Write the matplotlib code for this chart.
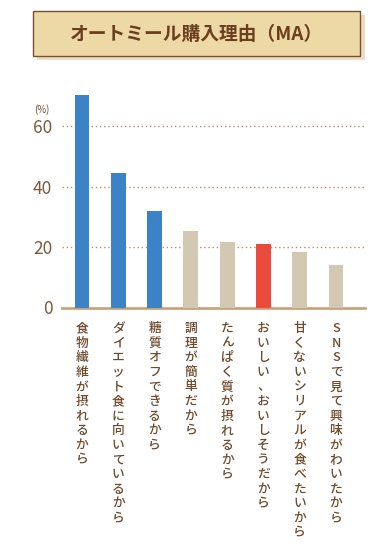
import matplotlib.pyplot as plt
from matplotlib.patches import Rectangle

plt.rcParams['font.family'] = ['Noto Sans CJK JP', 'DejaVu Sans']

# Data
reasons = ['食物繊維が摂れるから', 'ダイエット食に向いているから', '糖質オフできるから',
           '調理が簡単だから', 'たんぱく質が摂れるから', 'おいしい、おいしそうだから',
           '甘くないシリアルが食べたいから', 'SNSで見て興味がわいたから']
values = [70.5, 44.4, 32.0, 25.4, 21.8, 20.9, 18.4, 14.1]
bar_colors = ['#3b82c6', '#3b82c6', '#3b82c6', '#d3c8b2', '#d3c8b2',
              '#ea4b3c', '#d3c8b2', '#d3c8b2']
yticks = [0, 20, 40, 60]
title = 'オートミール購入理由（MA）'

brown = '#6e4a2c'
W, H = 390, 551
fig = plt.figure(figsize=(W / 100, H / 100), dpi=100)

# Title box with shadow
shadow = Rectangle((37 / W, 1 - 60 / H), 328 / W, 45 / H, transform=fig.transFigure,
                   facecolor='#dcc99a', edgecolor='none', alpha=0.6)
box = Rectangle((33 / W, 1 - 56 / H), 327 / W, 45 / H, transform=fig.transFigure,
                facecolor='#ecd9a6', edgecolor='#7a4e30', linewidth=1.0)
fig.patches.extend([shadow, box])
fig.text(196 / W, 1 - 34 / H, title, ha='center', va='center', fontsize=13.5,
         fontweight='bold', color='#6b3e1e')

# Axes
ax = fig.add_axes([62 / W, 1 - 307.5 / H, 303 / W, 217.4 / H])
x = list(range(len(values)))
ax.bar(x, values, width=0.41, color=bar_colors, zorder=3)
ax.set_xlim(-0.551, 7.80)
ax.set_ylim(0, 72)
ax.set_yticks(yticks)
ax.set_yticklabels([str(v) for v in yticks])
ax.tick_params(axis='y', length=0, pad=7, labelsize=12.5, labelcolor='#7a5a3c')
ax.set_xticks([])
for s in ['top', 'right', 'left']:
    ax.spines[s].set_visible(False)
ax.spines['bottom'].set_color('#c9a37a')
ax.spines['bottom'].set_linewidth(2)
for v in yticks[1:]:
    ax.axhline(v, color='#b8916c', linestyle=(0, (1, 2)), linewidth=1.0, zorder=1)

fig.text(34 / W, 1 - 110 / H, '(%)', ha='left', va='center', fontsize=7, color=brown)

# Vertical category labels
for i, lab in enumerate(reasons):
    ax.text(i, -4.8, '\n'.join(lab), ha='center', va='top', fontsize=9.2,
            fontweight='medium', color=brown, linespacing=1.16, clip_on=False)

fig.savefig('out.png', dpi=100)
